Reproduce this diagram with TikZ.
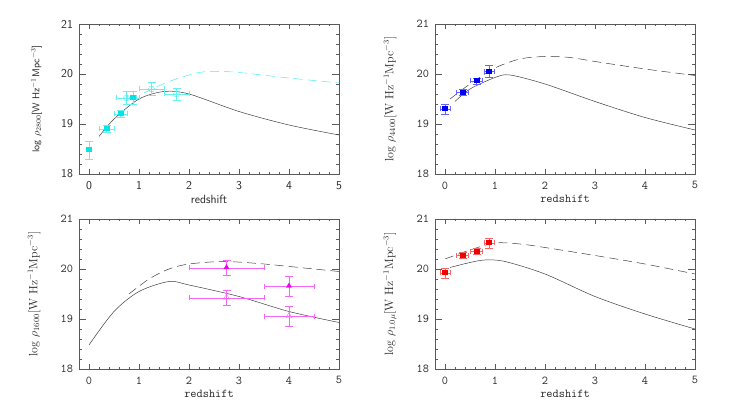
\documentclass[tikz,border=0pt]{standalone}
\usepackage{amsmath}
\usepackage{xcolor}
\usetikzlibrary{calc}
\usetikzlibrary{shapes.geometric}
\definecolor{cyanpt}{RGB}{0,230,230}
\definecolor{bluept}{RGB}{0,0,240}
\definecolor{redpt}{RGB}{240,0,0}
\definecolor{magpt}{RGB}{240,0,240}
\tikzset{
  frame/.style={gray!70!black, line width=.5pt},
  model/.style={black!75, line width=.5pt},
  modeldash/.style={black!75, line width=.5pt, dash pattern=on 9pt off 5pt},
  sq/.style={rectangle, fill=#1, minimum width=6pt, minimum height=5pt, inner sep=0pt},
  tri/.style={regular polygon, regular polygon sides=3, fill=#1, minimum size=7pt, inner sep=0pt},
  otri/.style={regular polygon, regular polygon sides=3, draw=#1, minimum size=7pt, inner sep=0pt},
  ocirc/.style={circle, draw=#1, minimum size=6pt, inner sep=0pt},
}
% error bar: x, y, dx, dy
\newcommand{\errbar}[5]{
 \draw[#5!60, line width=.5pt] ({#1-#3},{#2-18}) -- ({#1+#3},{#2-18});
 \draw[#5!60, line width=.5pt] (#1,{#2-18-#4}) -- (#1,{#2-18+#4});
 \draw[#5!60, line width=.5pt] ({#1-#3},{#2-18-.05}) --++(0,.1) ({#1+#3},{#2-18-.05}) --++(0,.1);
 \draw[#5!60, line width=.5pt] ({#1-.08},{#2-18-#4}) --++(.16,0) ({#1-.08},{#2-18+#4}) --++(.16,0);
}
\newcommand{\axesbox}[1]{
 \draw[frame] (-.2,0) rectangle (5,3);
 \foreach \t in {0,.2,...,5} {
  \draw[frame] (\t,0) --++(0,.04) (\t,3) --++(0,-.04);
 }
 \foreach \t in {0,...,5} {
  \draw[frame] (\t,0) --++(0,.1) (\t,3) --++(0,-.1);
  \node[font=#1, gray!30!black, anchor=north] at (\t,-.08) {\t};
 }
 \foreach \t in {0,.2,...,3} {
  \draw[frame] (-.2,\t) --++(.06,0) (5,\t) --++(-.06,0);
 }
 \foreach \t in {0,...,3} {
  \draw[frame] (-.2,\t) --++(.14,0) (5,\t) --++(-.14,0);
  \pgfmathtruncatemacro{\lab}{18+\t}
  \node[font=#1, gray!30!black, anchor=east] at (-.25,\t) {\lab};
 }
 \node[font=#1, gray!30!black] at (2.4,-.5) {redshift};
}
\begin{document}
\begin{tikzpicture}[x=50pt, y=50pt]
\useasboundingbox (0,0) rectangle (14.68,8.3);

% upper left: 2800
\begin{scope}[shift={(1.78,4.82)}]
\axesbox{\sffamily\large}
\node[rotate=90, font=\sffamily\normalsize, gray!30!black] at (-1.05,1.5) {log $\rho_{2800}$[W Hz$^{-1}$Mpc$^{-3}$]};
\draw[model] plot[smooth] coordinates {(.2,.75) (.5,1.1) (1,1.5) (1.5,1.65) (2,1.6) (3,1.25) (4,.98) (5,.78)};
\draw[cyanpt!70, line width=.5pt, dash pattern=on 9pt off 5pt] plot[smooth] coordinates {(1.1,1.62) (1.6,1.85) (2.2,2.03) (2.6,2.05) (3,2.03) (4,1.92) (5,1.82)};
\errbar{0}{18.48}{0}{.18}{cyanpt}
\errbar{.35}{18.9}{.15}{.07}{cyanpt}
\errbar{.63}{19.2}{.13}{.07}{cyanpt}
\errbar{.88}{19.52}{.12}{.13}{cyanpt}
\errbar{.75}{19.52}{.2}{.13}{cyanpt}
\errbar{1.25}{19.7}{.25}{.13}{cyanpt}
\errbar{1.75}{19.6}{.25}{.12}{cyanpt}
\foreach \x/\y [count=\i] in {0/.48, .35/.9, .63/1.2, .88/1.52}
 \node[sq=cyanpt] (cs\i) at (\x,\y) {};
\foreach \x/\y [count=\i] in {.75/1.52, 1.25/1.7, 1.75/1.6}
 \node[ocirc=cyanpt!70] (co\i) at (\x,\y) {};
\end{scope}

% upper right: 4400
\begin{scope}[shift={(8.9,4.82)}]
\axesbox{\ttfamily\large}
\node[rotate=90, font=\large, gray!30!black] at (-1.1,1.5) {log $\rho_{4400}$[W Hz$^{-1}$Mpc$^{-3}$]};
\draw[model] plot[smooth] coordinates {(.2,1.45) (.5,1.7) (1,1.93) (1.3,1.98) (2,1.8) (3,1.45) (4,1.13) (5,.88)};
\draw[modeldash] plot[smooth] coordinates {(.1,1.5) (.5,1.8) (1,2.12) (1.5,2.3) (2,2.35) (2.5,2.33) (3,2.25) (4,2.1) (5,1.97)};
\errbar{0}{19.3}{.1}{.1}{bluept}
\errbar{.35}{19.63}{.12}{.06}{bluept}
\errbar{.63}{19.86}{.12}{.06}{bluept}
\errbar{.88}{20.05}{.1}{.12}{bluept}
\foreach \x/\y [count=\i] in {0/1.3, .35/1.63, .63/1.86, .88/2.05}
 \node[sq=bluept] (bs\i) at (\x,\y) {};
\end{scope}

% lower left: 1600
\begin{scope}[shift={(1.78,.92)}]
\axesbox{\ttfamily\large}
\node[rotate=90, font=\large, gray!30!black] at (-1.1,1.5) {log $\rho_{1600}$[W Hz$^{-1}$Mpc$^{-3}$]};
\draw[model] plot[smooth] coordinates {(0,.48) (.5,1.15) (1,1.55) (1.6,1.75) (2,1.68) (3,1.45) (4,1.15) (5,.93)};
\draw[modeldash] plot[smooth] coordinates {(.8,1.5) (1.2,1.8) (1.6,2.0) (2,2.1) (2.7,2.15) (3.5,2.1) (4.5,2.0) (5,1.95)};
\errbar{2.75}{20.02}{.75}{.15}{magpt}
\errbar{4}{19.65}{.5}{.2}{magpt}
\errbar{2.75}{19.42}{.75}{.15}{magpt}
\errbar{4}{19.05}{.5}{.2}{magpt}
\node[tri=magpt] (mt1) at (2.75,2.03) {};
\node[tri=magpt] (mt2) at (4,1.66) {};
\node[otri=magpt!60] (mo1) at (2.75,1.43) {};
\node[otri=magpt!60] (mo2) at (4,1.06) {};
\end{scope}

% lower right: 1.0 micron
\begin{scope}[shift={(8.9,.92)}]
\axesbox{\ttfamily\large}
\node[rotate=90, font=\large, gray!30!black] at (-1.1,1.5) {log $\rho_{1.0\mu}$[W Hz$^{-1}$Mpc$^{-3}$]};
\draw[model] plot[smooth] coordinates {(.1,2.03) (.5,2.13) (.8,2.18) (1.2,2.15) (2,1.9) (3,1.45) (4,1.1) (5,.8)};
\draw[modeldash] plot[smooth] coordinates {(0,2.2) (.5,2.38) (1,2.52) (1.5,2.5) (2,2.43) (3,2.27) (4,2.1) (5,1.9)};
\errbar{0}{19.92}{.1}{.1}{redpt}
\errbar{.35}{20.27}{.12}{.06}{redpt}
\errbar{.63}{20.35}{.12}{.06}{redpt}
\errbar{.88}{20.52}{.1}{.1}{redpt}
\foreach \x/\y [count=\i] in {0/1.92, .35/2.27, .63/2.35, .88/2.52}
 \node[sq=redpt] (rs\i) at (\x,\y) {};
\end{scope}
\end{tikzpicture}
\end{document}
